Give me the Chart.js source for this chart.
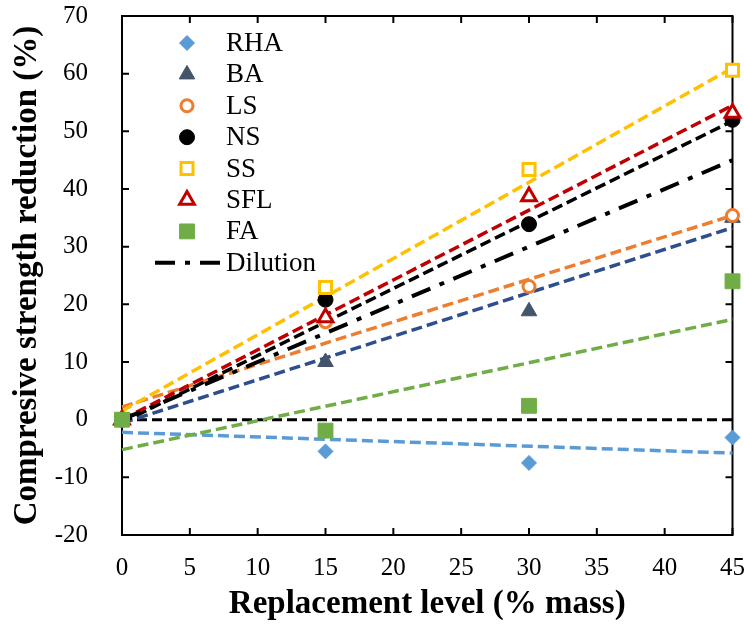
<!DOCTYPE html>
<html><head><meta charset="utf-8">
<script src="https://cdn.jsdelivr.net/npm/chart.js@4/dist/chart.umd.min.js"></script>
<style>html,body{margin:0;padding:0;background:#fff}#wrap{width:744px;height:631px}</style>
</head><body><div id="wrap"><canvas id="c" width="744" height="631"></canvas></div>
<script>
// ---- data ----
const xLevels = [0, 15, 30, 45];
const rhaValues = [0, -5.5, -7.5, -3.1];
const baValues  = [0, 10.0, 18.8, 35.0];
const lsValues  = [0, 17.0, 23.1, 35.4];
const nsValues  = [0, 20.8, 33.9, 52.0];
const ssValues  = [0, 22.9, 43.4, 60.6];
const sflValues = [0, 17.7, 38.7, 53.2];
const faValues  = [0, -1.9, 2.4, 24.0];

// trend line end values at x = 0 and x = 45
const trendX = [0, 45];
const rhaTrend = [-2.2, -5.8];
const baTrend  = [-0.6, 33.3];
const lsTrend  = [2.2, 35.4];
const nsTrend  = [-0.5, 51.8];
const ssTrend  = [1.5, 61.0];
const sflTrend = [0.0, 54.5];
const faTrend  = [-5.2, 17.4];
const dilutionLine = [0, 45];
const zeroLine = [0, 0];

const xTicks = [0, 5, 10, 15, 20, 25, 30, 35, 40, 45];
const yTicks = [-20, -10, 0, 10, 20, 30, 40, 50, 60, 70];
const seriesNames = ['RHA', 'BA', 'LS', 'NS', 'SS', 'SFL', 'FA', 'Dilution'];

// ---- build datasets ----
const pts = (xs, ys) => xs.map((x, i) => ({x: x, y: ys[i]}));
function markerSet(label, ys, style, radius, fill, stroke, bw, order) {
  return {label, data: pts(xLevels, ys), showLine: false, pointStyle: style, pointRadius: radius,
    pointHoverRadius: radius, backgroundColor: fill, borderColor: stroke, pointBorderWidth: bw,
    borderWidth: bw, clip: false, isMarker: true, order};
}
function lineSet(label, ys, color, width, dash, order) {
  return {label, data: pts(trendX, ys), showLine: true, borderColor: color, borderWidth: width,
    borderDash: dash, pointRadius: 0, pointHoverRadius: 0, backgroundColor: color, fill: false,
    clip: false, order};
}
const dash = [11, 5];
const datasets = [
  markerSet(seriesNames[0], rhaValues, 'rectRot', 7.5, '#5B9BD5', '#5B9BD5', 1, 7),
  markerSet(seriesNames[1], baValues, 'triangle', 9, '#44546A', '#44546A', 1, 6),
  markerSet(seriesNames[2], lsValues, 'circle', 6, '#ffffff', '#ED7D31', 3, 5),
  markerSet(seriesNames[3], nsValues, 'circle', 7.5, '#000000', '#000000', 1, 4),
  markerSet(seriesNames[4], ssValues, 'rect', 8.5, '#ffffff', '#FFC000', 3, 3),
  markerSet(seriesNames[5], sflValues, 'triangle', 8.5, '#ffffff', '#C00000', 3, 2),
  markerSet(seriesNames[6], faValues, 'rect', 10.5, '#70AD47', '#70AD47', 1, 1),
  lineSet(seriesNames[7], dilutionLine, '#000000', 4, [20, 10, 5, 10], 10),
  lineSet('RHA trend', rhaTrend, '#5B9BD5', 3.5, dash, 18),
  lineSet('BA trend', baTrend, '#2E4F8C', 3.5, dash, 17),
  lineSet('LS trend', lsTrend, '#ED7D31', 3.5, dash, 16),
  lineSet('NS trend', nsTrend, '#000000', 3.5, dash, 15),
  lineSet('SS trend', ssTrend, '#FFC000', 3.5, dash, 14),
  lineSet('SFL trend', sflTrend, '#C00000', 3.5, dash, 13),
  lineSet('FA trend', faTrend, '#70AD47', 3.5, dash, 12),
  lineSet('zero', zeroLine, '#000000', 3, [10, 5], 20)
];

// ---- plugins ----
const framePlugin = {
  id: 'frame',
  beforeDatasetsDraw(chart) {
    const {ctx, chartArea: a, scales} = chart;
    ctx.save();
    ctx.strokeStyle = '#000';
    ctx.lineWidth = 2;
    ctx.strokeRect(a.left, a.top, a.right - a.left, a.bottom - a.top);
    const tl = 7;
    ctx.beginPath();
    xTicks.forEach(v => {
      const px = scales.x.getPixelForValue(v);
      ctx.moveTo(px, a.bottom); ctx.lineTo(px, a.bottom - tl);
      ctx.moveTo(px, a.top); ctx.lineTo(px, a.top + tl);
    });
    yTicks.forEach(v => {
      const py = scales.y.getPixelForValue(v);
      ctx.moveTo(a.left, py); ctx.lineTo(a.left + tl, py);
      ctx.moveTo(a.right, py); ctx.lineTo(a.right - tl, py);
    });
    ctx.stroke();
    ctx.restore();
  }
};

const legendPlugin = {
  id: 'insideLegend',
  afterDraw(chart) {
    const {ctx} = chart;
    const x0 = chart.chartArea.left + 65;
    const textX = chart.chartArea.left + 104;
    const y0 = chart.chartArea.top + 27;
    const step = 31.4;
    ctx.save();
    ctx.font = '27px "Liberation Serif", "Times New Roman", serif';
    ctx.textBaseline = 'middle';
    ctx.textAlign = 'left';
    seriesNames.forEach((name, i) => {
      const ds = chart.data.datasets.find(d => d.label === name);
      const y = y0 + i * step;
      if (ds.isMarker) {
        ctx.fillStyle = ds.backgroundColor;
        ctx.strokeStyle = ds.borderColor;
        ctx.lineWidth = ds.pointBorderWidth;
        Chart.helpers.drawPoint(ctx, {pointStyle: ds.pointStyle, radius: ds.pointRadius, rotation: 0, borderWidth: ds.pointBorderWidth}, x0, y);
      } else {
        ctx.strokeStyle = ds.borderColor;
        ctx.lineWidth = ds.borderWidth;
        ctx.setLineDash(ds.borderDash);
        ctx.beginPath();
        ctx.moveTo(x0 - 32, y); ctx.lineTo(x0 + 33, y);
        ctx.stroke();
        ctx.setLineDash([]);
      }
      ctx.fillStyle = '#000';
      ctx.fillText(name, textX, y + 1);
    });
    ctx.restore();
  }
};

const tickFont = {family: '"Liberation Serif", "Times New Roman", serif', size: 25};
const titleFont = {family: '"Liberation Serif", "Times New Roman", serif', size: 33, weight: 'bold'};
const noPad = s => { s.paddingTop = 0; s.paddingBottom = 0; s.paddingLeft = 0; s.paddingRight = 0; };

new Chart(document.getElementById('c'), {
  type: 'scatter',
  data: {datasets},
  options: {
    responsive: false,
    animation: false,
    devicePixelRatio: 1,
    layout: {padding: {top: 16, right: 10, left: 0, bottom: 0}},
    plugins: {legend: {display: false}, tooltip: {enabled: false}},
    scales: {
      x: {
        type: 'linear', min: 0, max: 45,
        afterBuildTicks: s => { s.ticks = xTicks.map(v => ({value: v})); },
        afterFit: s => { s.height = 96; noPad(s); },
        grid: {display: false}, border: {display: false},
        ticks: {font: tickFont, color: '#000', padding: 10, maxRotation: 0, autoSkip: false},
        title: {display: true, text: 'Replacement level (% mass)', font: titleFont, color: '#000', padding: {top: 0, bottom: 7}}
      },
      y: {
        type: 'linear', min: -20, max: 70,
        afterBuildTicks: s => { s.ticks = yTicks.map(v => ({value: v})); },
        afterFit: s => { s.width = 122; noPad(s); },
        grid: {display: false}, border: {display: false},
        ticks: {font: tickFont, color: '#000', padding: 26, autoSkip: false},
        title: {display: true, text: 'Compresive strength reduction (%)', font: titleFont, color: '#000', padding: {top: 8, bottom: 0}}
      }
    }
  },
  plugins: [framePlugin, legendPlugin]
});
</script>
</body></html>
